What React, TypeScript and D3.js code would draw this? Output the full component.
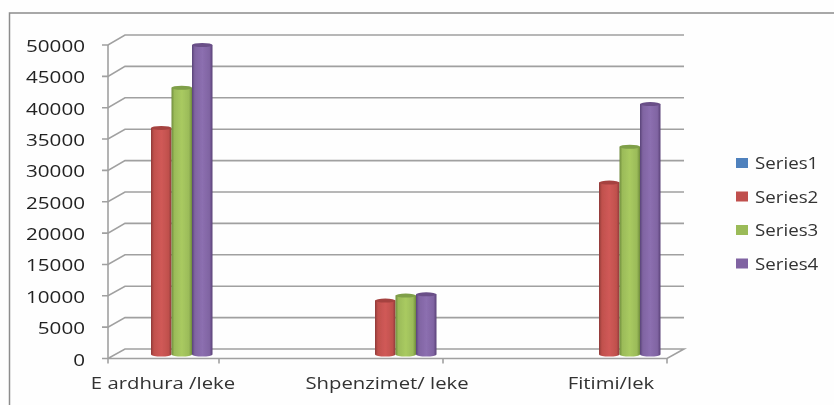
import React from "react";
import * as d3 from "d3";

const categories = ["E ardhura /leke", "Shpenzimet/ leke", "Fitimi/lek"];
const seriesNames = ["Series1", "Series2", "Series3", "Series4"];
const series1 = [0, 0, 0];
const series2 = [36000, 8500, 27300];
const series3 = [42400, 9300, 33000];
const series4 = [49200, 9500, 39800];
const allSeries = [series1, series2, series3, series4];
const yTicks = [0, 5000, 10000, 15000, 20000, 25000, 30000, 35000, 40000, 45000, 50000];
const faces = ["#4F81BD", "#C0504D", "#9BBB59", "#8064A2"];
const darks = ["#2F5283", "#8E3A38", "#6F8C3C", "#5A4378"];
const lights = ["#5C92D0", "#D05A57", "#A9CA61", "#8C6FB0"];
const tops = ["#3F6AA0", "#A54340", "#7F9F48", "#6A5088"];

const W = 834, H = 405;
const frontY = d3.scaleLinear().domain([0, 50000]).range([358.5, 45]);
const backY = d3.scaleLinear().domain([0, 50000]).range([349, 35]);
const barY = d3.scaleLinear().domain([0, 50000]).range([354, 40]);
const xBand = d3.scaleBand<string>().domain(categories).range([59.5, 731.5]);
const xSeries = d3.scaleBand<string>().domain(seriesNames).range([-41, 41]);
const frontX0 = 108, frontX1 = 667, depthX = 17;

export default function App() {
  return (
    <svg width={W} height={H} style={{ position: "absolute", left: 0, top: 0, background: "#fefefe" }}>
      <defs>
        <filter id="soft" x="-5%" y="-5%" width="110%" height="110%"><feGaussianBlur stdDeviation="0.5" /></filter>
        {faces.map((c, i) => (
          <linearGradient key={i} id={`cyl${i}`} x1="0" x2="1" y1="0" y2="0">
            <stop offset="0" stopColor={darks[i]} />
            <stop offset="0.14" stopColor={faces[i]} />
            <stop offset="0.5" stopColor={lights[i]} />
            <stop offset="0.85" stopColor={faces[i]} />
            <stop offset="1" stopColor={darks[i]} />
          </linearGradient>
        ))}
      </defs>
      <g filter="url(#soft)">
        <path d="M9.5 405V13H834" fill="none" stroke="#8c8c8c" strokeWidth={1.5} />
        {yTicks.map((t) => (
          <path key={t}
            d={`M${frontX0 - 6} ${frontY(t)}H${frontX0}L${frontX0 + depthX} ${backY(t)}H${frontX1 + depthX}${t === 0 ? `L${frontX1} ${frontY(t)}H${frontX0}` : ""}`}
            fill="none" stroke="#a0a0a0" strokeWidth={1.6} />
        ))}
        <line x1={frontX0} x2={frontX0} y1={frontY(50000)} y2={frontY(0) + 5} stroke="#a0a0a0" strokeWidth={1.6} />
        {categories.map((c) => {
          const tx = xBand(c)! + xBand.bandwidth() / 2 + 47.5;
          return <line key={c} x1={tx} x2={tx} y1={frontY(0)} y2={frontY(0) + 5} stroke="#a0a0a0" strokeWidth={1.6} />;
        })}
        {categories.map((c, ci) => allSeries.map((vals, si) => {
          const v = vals[ci];
          if (v <= 0) return null;
          const cx = xBand(c)! + xBand.bandwidth() / 2 + xSeries(seriesNames[si])! + xSeries.bandwidth() / 2;
          const r = xSeries.bandwidth() / 2;
          const top = barY(v), bottom = barY(0) + 0.5;
          const ry = 2;
          return (
            <g key={`${ci}-${si}`}>
              <path d={`M${cx - r} ${top}V${bottom}A${r} ${ry} 0 0 0 ${cx + r} ${bottom}V${top}Z`} fill={`url(#cyl${si})`} />
              <ellipse cx={cx} cy={top} rx={r} ry={ry} fill={tops[si]} />
            </g>
          );
        }))}
        {yTicks.map((t) => (
          <text key={t} textAnchor="end" fontFamily="Open Sans" fontSize={16} fill="#222"
            transform={`translate(85 ${frontY(t) + 7}) scale(1.29 1)`}>{t}</text>
        ))}
        {categories.map((c) => (
          <text key={c} textAnchor="middle" fontFamily="Open Sans" fontSize={16} fill="#333"
            transform={`translate(${xBand(c)! + xBand.bandwidth() / 2 - 8.5} 389) scale(1.27 1)`}>{c}</text>
        ))}
        {seriesNames.map((s, i) => (
          <g key={s}>
            <rect x={736} y={158 + i * 33.5} width={12} height={10} fill={faces[i]} />
            <text textAnchor="start" fontFamily="Open Sans" fontSize={16} fill="#333"
              transform={`translate(755 ${169 + i * 33.5}) scale(1.17 1)`}>{s}</text>
          </g>
        ))}
      </g>
    </svg>
  );
}
